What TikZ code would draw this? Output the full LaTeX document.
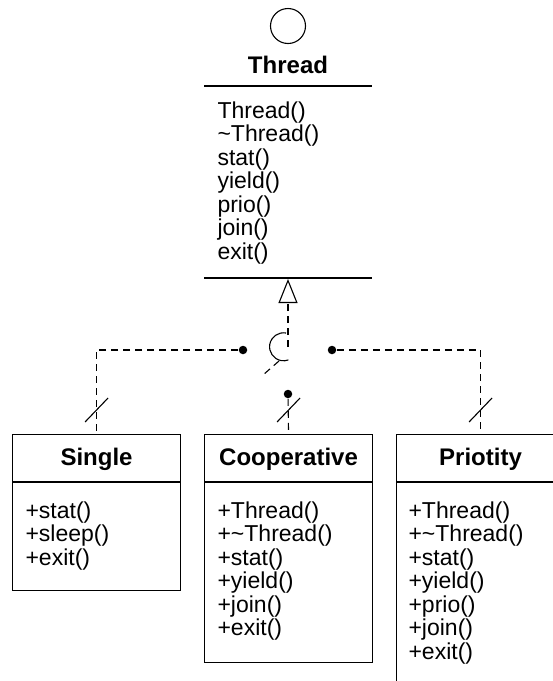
\documentclass[tikz,border=0pt]{standalone}
\usepackage{fontspec}
\setmainfont{Liberation Sans}
\usepackage{tikz}
\usetikzlibrary{arrows.meta}

\begin{document}
\begin{tikzpicture}[x=1pt, y=1pt, line width=1.1pt,
    classbox/.style={shape=rectangle, draw, anchor=north west, minimum width=168, inner sep=0pt},
    title/.style={anchor=base, font=\fontsize{24}{26}\selectfont\bfseries, inner sep=0pt},
    member/.style={anchor=base west, font=\fontsize{23}{23.5}\selectfont, inner sep=0pt},
    jdot/.style={shape=circle, fill, inner sep=0pt, minimum size=8.5},
    dashline/.style={dash pattern=on 7pt off 5pt}]
    \useasboundingbox (0,0) rectangle (553,-681);
    \clip (0,0) rectangle (553,-681);

    % interface Thread
    \node[shape=circle, draw, minimum size=35, inner sep=0pt] (iface) at (288,-26) {};
    \node[title] (thread) at (288,-73) {Thread};
    \draw (204,-86) -- (372,-86);
    \foreach \m [count=\i from 0] in {Thread(), \textasciitilde Thread(), stat(), yield(), prio(), join(), exit()}
      \node[member] (tm\i) at (217,-118-23.5*\i) {\m};
    \draw (204,-278) -- (372,-278);
    \coordinate (tb) at (288,-279);

    % classes
    \node[classbox, minimum height=156] (single) at (12,-434) {};
    \node[classbox, minimum height=228] (coop) at (204,-434) {};
    \node[classbox, minimum height=260] (prio) at (396,-434) {};
    \foreach \b in {single, coop, prio}
      \draw ([yshift=-48]\b.north west) -- ([yshift=-48]\b.north east);
    \node[title] (singlet) at ([yshift=-31]single.north) {Single};
    \node[title] (coopt) at ([yshift=-31]coop.north) {Cooperative};
    \node[title] (priot) at ([yshift=-31]prio.north) {Priotity};
    \foreach \m [count=\i from 0] in {+stat(), +sleep(), +exit()}
      \node[member] (sm\i) at ([shift={(13,-84-23.5*\i)}]single.north west) {\m};
    \foreach \m [count=\i from 0] in {+Thread(), +\textasciitilde Thread(), +stat(), +yield(), +join(), +exit()}
      \node[member] (cm\i) at ([shift={(13,-84-23.5*\i)}]coop.north west) {\m};
    \foreach \m [count=\i from 0] in {+Thread(), +\textasciitilde Thread(), +stat(), +yield(), +prio(), +join(), +exit()}
      \node[member] (pm\i) at ([shift={(12,-84-23.5*\i)}]prio.north west) {\m};

    % realization
    \node[jdot] (dl) at (243,-350) {};
    \node[jdot] (dr) at (332,-350) {};
    \node[jdot] (dc) at (288,-394) {};
    \draw[dashline] (dl) -| (single.north);
    \draw[dashline] (dr) -| (prio.north);
    \draw[dashline] (dc) -- (coop.north);
    \foreach \b in {single, coop, prio}
      \draw ([shift={(-11.5,12)}]\b.north) -- ++(23,24);
    \coordinate (hop) at (288,-347);
    \coordinate (hopa) at (279,-361);
    \coordinate (hopb) at (263,-375);
    \draw[dashline, -{Triangle[open, length=24pt, width=19pt]}] (hop) -- (tb);
    \draw (286,-333) arc[start angle=80, end angle=290, radius=14];
    \draw[dashline] (hopa) -- (hopb);
\end{tikzpicture}
\end{document}
